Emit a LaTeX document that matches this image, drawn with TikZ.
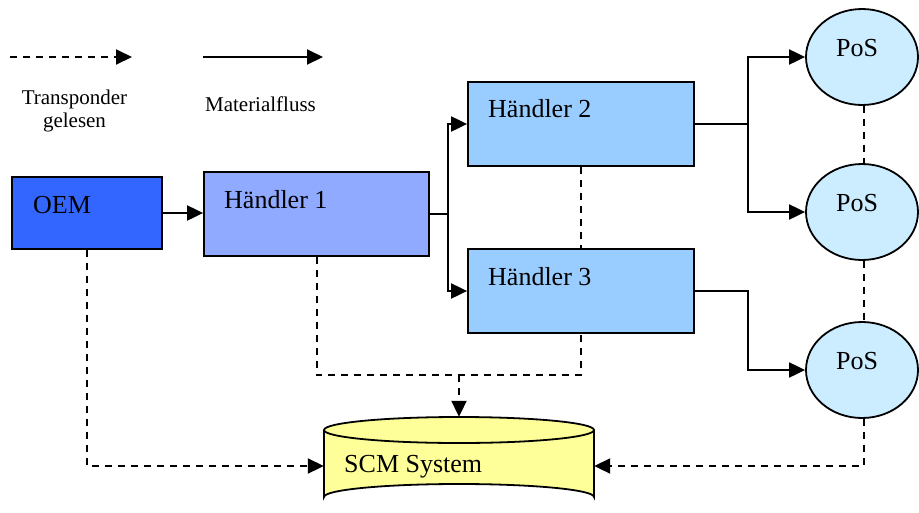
\documentclass[tikz,border=0pt]{standalone}
\usepackage{fontspec}
\setmainfont{Liberation Serif}
\usetikzlibrary{arrows.meta,shapes.geometric}
\definecolor{oemc}{HTML}{3366FF}
\definecolor{hoc}{HTML}{8FAAFF}
\definecolor{hac}{HTML}{99CCFF}
\definecolor{posc}{HTML}{CCECFF}
\definecolor{scmc}{HTML}{FFFF99}
\tikzset{
  boxst/.style={draw=black, line width=1.8pt, rectangle, inner sep=0pt},
  posst/.style={draw=black, line width=1.8pt, ellipse, inner sep=0pt, fill=posc, minimum width=112pt, minimum height=96pt},
  maintxt/.style={font=\fontsize{26}{28}\selectfont, inner sep=0pt, anchor=base west},
  legtxt/.style={font=\fontsize{21}{23}\selectfont, inner sep=0pt, anchor=base},
  conn/.style={line width=2pt},
  arr/.style={conn, -{Triangle[length=16pt,width=15pt]}},
  dsh/.style={conn, dash pattern=on 7pt off 6pt},
}
\begin{document}
\begin{tikzpicture}[x=1pt,y=-1pt]
\useasboundingbox (0,0) rectangle (919,512);
% legend
\coordinate (la) at (10,57);
\coordinate (lb) at (132,57);
\coordinate (lc) at (203,57);
\coordinate (ld) at (323,57);
\draw[dsh,arr] (la) -- (lb);
\draw[arr] (lc) -- (ld);
\node[legtxt] (lt1) at (74.5,104) {Transponder};
\node[legtxt] (lt2) at (74.5,127) {gelesen};
\node[legtxt] (lt3) at (260.5,111) {Materialfluss};
% boxes
\node[boxst, fill=oemc, minimum width=150pt, minimum height=72pt] (oem) at (87,213) {};
\node[maintxt] (toem) at (33,213) {OEM};
\node[boxst, fill=hoc, minimum width=225pt, minimum height=84pt] (h1) at (316.5,214) {};
\node[maintxt] (th1) at (224,208) {Händler 1};
\node[boxst, fill=hac, minimum width=226pt, minimum height=84pt] (h2) at (581,124) {};
\node[maintxt] (th2) at (488,117) {Händler 2};
\node[boxst, fill=hac, minimum width=226pt, minimum height=84pt] (h3) at (581,291) {};
\node[maintxt] (th3) at (488,285) {Händler 3};
% PoS
\node[posst] (pos1) at (862,57) {};
\node[posst] (pos2) at (862,212) {};
\node[posst] (pos3) at (862,370) {};
\node[maintxt, anchor=base] (tp1) at (857,56) {PoS};
\node[maintxt, anchor=base] (tp2) at (857,211) {PoS};
\node[maintxt, anchor=base] (tp3) at (857,369) {PoS};
% SCM cylinder
\filldraw[fill=scmc, draw=black, line width=1.8pt]
  (324,430) -- (324,497) arc[start angle=180, end angle=360, x radius=135pt, y radius=-13pt]
  -- (594,430);
\filldraw[fill=scmc, draw=black, line width=1.8pt] (459,430) ellipse[x radius=135pt, y radius=13pt];
\node[inner sep=0pt, minimum width=270pt, minimum height=98pt] (scm) at (459,466) {};
\node[maintxt] (tscm) at (344,472) {SCM System};
% material flow
\draw[arr] (oem.east) -- (oem.east -| h1.west);
\coordinate (br1) at (448,214);
\draw[conn] (h1.east) -- (br1);
\draw[arr] (br1) |- (h2.west);
\draw[arr] (br1) |- (h3.west);
\coordinate (br2) at (748,124);
\draw[conn] (h2.east) -- (br2);
\draw[arr] (br2) |- (pos1.west);
\draw[arr] (br2) |- (pos2.west);
\coordinate (br3) at (748,291);
\draw[arr] (h3.east) -- (br3) |- (pos3.west);
% transponder
\draw[dsh] (h2.south) -- (h3.north);
\draw[dsh] (pos1.south -| 864,0) -- (pos2.north -| 864,0);
\draw[dsh] (pos2.south -| 864,0) -- (pos3.north -| 864,0);
\draw[dsh,arr] (oem.south) |- (scm.west);
\coordinate (jn) at (459,375);
\draw[dsh] (h1.south) |- (jn) -| (h3.south);
\draw[dsh,arr] (jn) -- (scm.north);
\draw[dsh,arr] (pos3.south -| 864,0) |- (scm.east);
\end{tikzpicture}
\end{document}
